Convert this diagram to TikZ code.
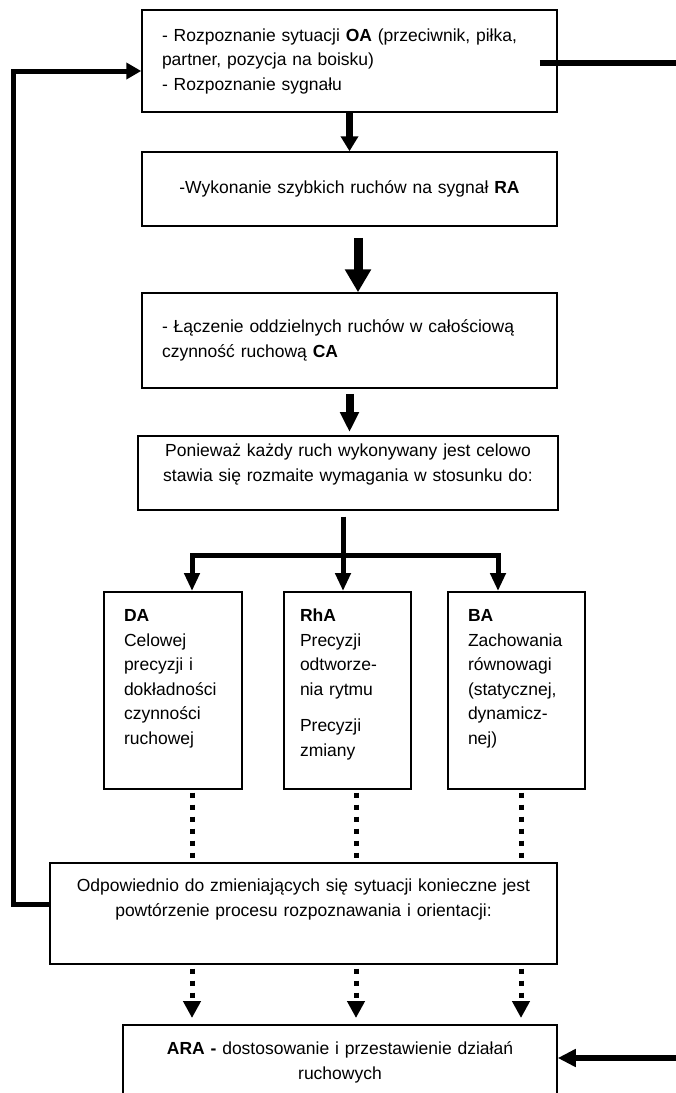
\documentclass[tikz,border=0pt]{standalone}
\usepackage{fontspec}
\setmainfont{Liberation Sans}
\usetikzlibrary{arrows.meta, positioning}

\begin{document}
\begin{tikzpicture}[
    x=1pt, y=-1pt,
    box/.style={rectangle, draw=black, line width=1.5pt, inner xsep=20pt, inner ysep=0pt, font=\fontsize{17.5}{24.5}\selectfont},
    stage/.style={box, minimum width=415pt, text width=375pt},
    need/.style={box, anchor=north, align=left, text height=30pt, text depth=167pt},
    flow/.style={line width=5pt},
    dots/.style={line width=5pt, dash pattern=on 5pt off 7pt}
]

    \useasboundingbox (0,0) rectangle (676,1093);
    \clip (0,0) rectangle (676,1093);

    % Stages
    \node[stage, minimum height=102pt, align=left] (recog) at (349.5,61) {- Rozpoznanie sytuacji \textbf{OA} (przeciwnik, piłka,\\partner, pozycja na boisku)\\- Rozpoznanie sygnału};
    \node[stage, minimum height=74pt, align=center] (fast) at (349.5,189) {-Wykonanie szybkich ruchów na sygnał \textbf{RA}};
    \node[stage, minimum height=95pt, align=left] (combine) at (349.5,340.5) {- Łączenie oddzielnych ruchów w całościową\\czynność ruchową \textbf{CA}};
    \node[box, anchor=north, text width=380pt, align=center, text height=21pt, text depth=53pt] (demand) at (348,435) {Ponieważ każdy ruch wykonywany jest celowo\\stawia się rozmaite wymagania w stosunku do:};

    % Requirements
    \node[need, text width=98pt] (prec) at (173,591) {\textbf{DA}\\Celowej\\precyzji i\\dokładności\\czynności\\ruchowej};
    \node[need, text width=95pt, inner xsep=16pt] (rhythm) at (347.5,591) {\textbf{RhA}\\Precyzji\\odtworze-\\nia rytmu\\[12pt]Precyzji\\zmiany};
    \node[need, text width=97pt] (balance) at (516.5,591) {\textbf{BA}\\Zachowania\\równowagi\\(statycznej,\\dynamicz-\\nej)};

    % Repetition and adaptation
    \node[box, anchor=north, text width=467pt, align=center, text height=29pt, text depth=72pt] (repeat) at (303.5,862) {Odpowiednio do zmieniających się sytuacji konieczne jest\\powtórzenie procesu rozpoznawania i orientacji:};
    \node[box, anchor=north, text width=394pt, align=center, text height=30pt, text depth=50pt] (adapt) at (340,1024) {\textbf{ARA -} dostosowanie i przestawienie działań\\ruchowych};

    \coordinate (outR) at (676,63);
    \coordinate (inR) at (676,1058);
    \coordinate (fork) at (343,555);
    \coordinate (forktop) at ([xshift=-5pt, yshift=-6pt]demand.south);
    \coordinate (leftdrop) at ([xshift=19pt]prec.north);
    \coordinate (rightdrop) at ([xshift=-18.5pt]balance.north);
    \coordinate (d1) at ([xshift=19pt, yshift=-3pt]prec.south);
    \coordinate (d2) at ([xshift=8.5pt, yshift=-3pt]rhythm.south);
    \coordinate (d3) at ([xshift=4.5pt, yshift=-3pt]balance.south);

    % Main flow
    \draw[line width=7pt, -{Triangle[length=15pt, width=17pt]}] (recog) -- (fast);
    \draw[line width=9pt, -{Triangle[length=23pt, width=25pt]}] ([xshift=8.5pt, yshift=-11pt]fast.south) -- ([xshift=8.5pt]combine.north);
    \draw[line width=8pt, -{Triangle[length=20pt, width=18pt]}, shorten <=5pt, shorten >=3pt] (combine.south) -- (combine.south |- demand.north);

    % Branching
    \draw[flow, -{Triangle[length=18pt, width=15pt]}] (forktop) -- (forktop |- rhythm.north);
    \draw[flow, {Triangle[length=18pt, width=15pt]}-{Triangle[length=18pt, width=15pt]}] (leftdrop) |- (fork) -| (rightdrop);

    \foreach \d in {d1, d2, d3} {
        \draw[dots] (\d) -- (\d |- repeat.north);
        \draw[dots, -{Triangle[length=17pt, width=17pt]}, shorten <=4pt, shorten >=6pt] (\d |- repeat.south) -- (\d |- adapt.north);
    }

    % Feedback
    \draw[flow, -{Triangle[length=15pt, width=16pt]}] ([yshift=8.5pt]repeat.west) -- ++(-36,0) |- ([yshift=-10pt]recog.west);
    \draw[line width=5.5pt] ([xshift=-18pt, yshift=-2pt]recog.east) -- (outR);
    \draw[line width=6.5pt, -{Triangle[length=18pt, width=17pt]}] (inR) -- (inR -| adapt.east);

\end{tikzpicture}
\end{document}
